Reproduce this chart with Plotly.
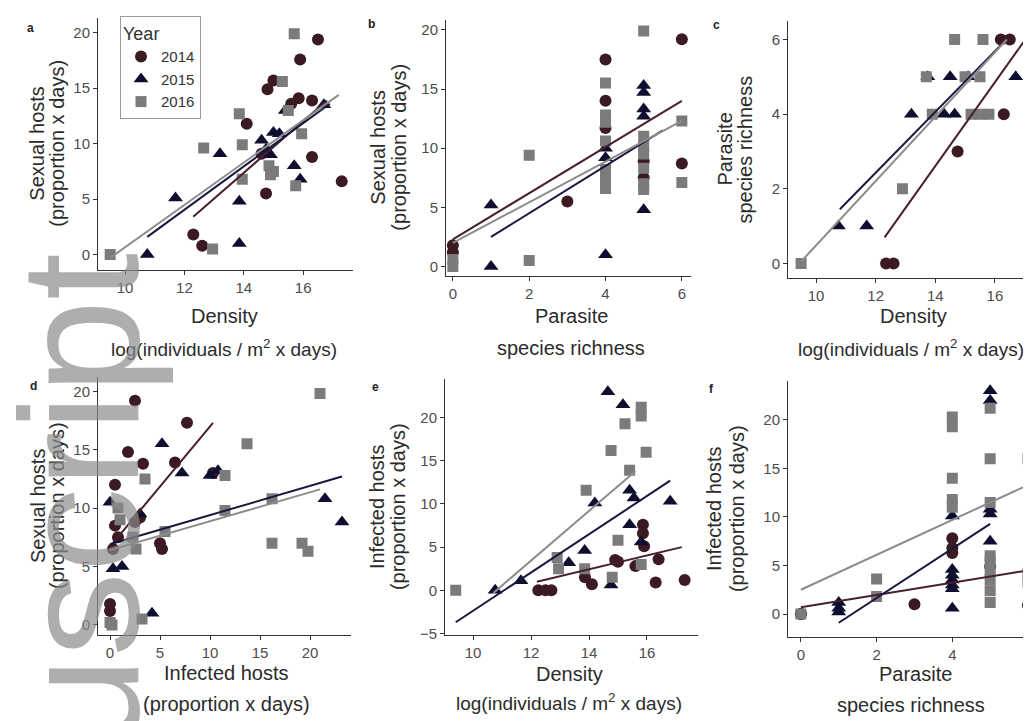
import plotly.graph_objects as go

W, H = 1031, 721

# ---------------- data ----------------
years = ["2014", "2015", "2016"]

# panel a: Density (x) vs Sexual hosts (y)
a_2014_x = [12.3, 12.6, 14.1, 14.6, 14.75, 14.8, 15.0, 15.6, 15.85, 15.9, 16.3, 16.3, 16.5, 17.3]
a_2014_y = [1.8, 0.8, 11.8, 9.1, 5.5, 14.9, 15.7, 13.6, 14.1, 17.6, 8.8, 13.9, 19.4, 6.6]
a_2015_x = [10.75, 11.7, 13.2, 13.85, 13.85, 14.6, 14.9, 15.0, 15.2, 15.4, 15.7, 15.9, 16.7, 14.75]
a_2015_y = [0.0, 5.1, 9.1, 4.8, 1.0, 10.3, 9.0, 11.0, 10.9, 13.0, 8.0, 6.8, 13.5, 9.5]
a_2016_x = [9.5, 12.95, 12.65, 13.85, 13.95, 13.95, 14.85, 14.9, 15.3, 15.7, 15.75, 15.95, 15.5, 15.0]
a_2016_y = [0.0, 0.5, 9.6, 12.7, 9.9, 6.8, 8.0, 7.2, 15.6, 19.9, 6.2, 10.9, 13.0, 7.5]

# panel b: Parasite species richness (x) vs Sexual hosts (y)
b_2014_x = [0, 0, 3, 4, 4, 4, 5, 5, 6, 6]
b_2014_y = [1.8, 1.2, 5.5, 17.5, 14.0, 11.7, 8.9, 7.5, 19.2, 8.7]
b_2015_x = [1, 1, 4, 4, 4, 5, 5, 5, 5, 5]
b_2015_y = [5.2, 0.0, 10.0, 9.2, 1.0, 15.3, 14.7, 13.3, 12.7, 4.8]
b_2016_x = [0, 0, 2, 2, 4, 4, 4, 4, 4, 4, 4, 5, 5, 5, 5, 5, 5, 5, 6, 6]
b_2016_y = [0.6, 0.0, 9.4, 0.5, 15.5, 12.8, 10.6, 8.2, 7.3, 6.6, 12.2, 19.9, 11.0, 10.2, 9.5, 8.3, 7.0, 6.5, 12.3, 7.1]

# panel c: Density (x) vs Parasite species richness (y)
c_2014_x = [12.35, 12.6, 14.75, 16.3, 16.2, 16.5, 17.25]
c_2014_y = [0, 0, 3, 4, 6, 6, 5]
c_2015_x = [10.75, 11.7, 13.2, 14.3, 14.65, 14.5, 15.1, 16.7, 13.75]
c_2015_y = [1, 1, 4, 4, 4, 5, 5, 5, 5]
c_2016_x = [9.5, 12.9, 13.9, 15.2, 15.5, 15.8, 13.7, 15.0, 15.5, 14.65, 15.6]
c_2016_y = [0, 2, 4, 4, 4, 4, 5, 5, 5, 6, 6]

# panel d: Infected hosts (x) vs Sexual hosts (y)
d_2014_x = [2.5, 7.7, 1.8, 3.3, 6.5, 10.3, 0.5, 0.5, 3.0, 2.5, 5.0, 5.2, 0.3, 0.0, 0.0, 0.8]
d_2014_y = [19.2, 17.3, 14.8, 13.8, 13.9, 13.0, 12.0, 8.5, 9.2, 8.8, 7.0, 6.5, 6.5, 1.8, 1.2, 7.5]
d_2015_x = [5.2, 7.2, 10.0, 10.8, 0.0, 0.3, 1.2, 4.2, 21.5, 23.2, 3.0]
d_2015_y = [15.5, 13.0, 12.8, 13.2, 10.5, 4.8, 5.0, 1.0, 10.8, 8.8, 9.5]
d_2016_x = [3.5, 11.5, 16.2, 13.7, 21.0, 16.2, 19.2, 19.8, 2.3, 5.5, 0.8, 2.6, 0.0, 0.2, 3.2, 11.5, 1.0]
d_2016_y = [12.5, 9.8, 10.8, 15.5, 19.8, 7.0, 7.0, 6.3, 7.5, 8.0, 10.0, 6.5, 0.2, 0.0, 0.5, 12.8, 9.0]

# panel e: Density (x) vs Infected hosts (y)
e_2014_x = [12.25, 12.5, 12.7, 13.86, 14.1, 15.0, 15.6, 15.86, 15.86, 15.9, 16.4, 16.3, 17.3, 14.9]
e_2014_y = [0.0, 0.0, 0.0, 1.5, 0.7, 3.3, 2.8, 7.6, 6.6, 5.1, 3.6, 0.9, 1.2, 3.5]
e_2015_x = [10.76, 11.65, 13.3, 14.2, 13.85, 14.65, 15.17, 15.4, 15.55, 15.4, 14.76, 16.8, 15.8]
e_2015_y = [0.0, 1.1, 3.2, 10.1, 4.6, 23.0, 21.5, 11.6, 10.7, 7.6, 0.6, 10.3, 5.6]
e_2016_x = [9.4, 12.9, 12.95, 13.9, 14.76, 15.24, 15.4, 15.0, 15.8, 15.8, 15.97, 14.8, 15.8, 13.85]
e_2016_y = [0.0, 3.8, 2.5, 11.6, 16.2, 19.3, 13.9, 5.8, 21.2, 20.2, 16.0, 1.5, 3.0, 2.5]

# panel f: Parasite species richness (x) vs Infected hosts (y)
f_2014_x = [0, 0, 3, 4, 4, 4, 5, 6]
f_2014_y = [0.0, 0.0, 1.0, 7.8, 6.8, 6.3, 4.9, 0.9]
f_2015_x = [1, 1, 1, 4, 4, 4, 4, 4, 4, 4, 5, 5, 5, 5, 5]
f_2015_y = [1.2, 0.6, 0.2, 10.1, 4.6, 4.0, 3.5, 3.0, 2.6, 0.6, 23.0, 22.0, 10.3, 10.8, 7.5]
f_2016_x = [0, 2, 2, 4, 4, 4, 4, 4, 5, 5, 5, 5, 5, 5, 5, 5, 5, 6, 6, 6]
f_2016_y = [0.0, 3.6, 1.8, 20.3, 19.3, 14.0, 11.8, 11.0, 21.2, 16.0, 11.5, 6.0, 5.5, 4.4, 3.5, 2.4, 1.2, 16.0, 4.2, 3.3]

# fitted lines (end points)
a_fit_x = {"2014": [12.3, 16.8], "2015": [10.75, 16.9], "2016": [9.5, 17.2]}
a_fit_y = {"2014": [3.4, 13.9], "2015": [1.6, 13.6], "2016": [-0.3, 14.4]}
b_fit_x = {"2014": [0, 6], "2015": [1, 5.5], "2016": [0, 6]}
b_fit_y = {"2014": [2.3, 14.0], "2015": [2.5, 11.5], "2016": [2.0, 12.3]}
c_fit_x = {"2014": [12.3, 17.2], "2015": [10.8, 16.2], "2016": [9.5, 16.4]}
c_fit_y = {"2014": [0.7, 6.2], "2015": [1.45, 5.85], "2016": [0.05, 6.0]}
d_fit_x = {"2014": [0, 10.3], "2015": [0, 23.2], "2016": [0, 21.0]}
d_fit_y = {"2014": [6.7, 17.3], "2015": [6.9, 12.7], "2016": [6.4, 11.6]}
e_fit_x = {"2014": [12.2, 17.2], "2015": [9.4, 16.8], "2016": [10.7, 15.6]}
e_fit_y = {"2014": [1.0, 5.0], "2015": [-3.7, 12.7], "2016": [-0.3, 13.8]}
f_fit_x = {"2014": [0, 6], "2015": [1, 5], "2016": [0, 6]}
f_fit_y = {"2014": [0.7, 4.5], "2015": [-0.9, 9.3], "2016": [2.5, 13.3]}

# ---------------- styles ----------------
pt_color = {"2014": "#3b1a22", "2015": "#0e0e30", "2016": "#7b7b7b"}
ln_color = {"2014": "#4a1f2c", "2015": "#17173f", "2016": "#8c8c8c"}
symbol = {"2014": "circle", "2015": "triangle-up", "2016": "square"}
msize = {"2014": 12, "2015": 13, "2016": 11}

FONT = "Liberation Sans, Arial, sans-serif"

# panel geometry in pixels: x0, x1, y0(top), y1(bottom)
panels = {
    "a": dict(px=(90, 345, 10, 265), xr=(9.09, 17.68), yr=(-1.43, 21.34), xt=[10, 12, 14, 16], yt=[0, 5, 10, 15, 20]),
    "b": dict(px=(438, 683, 12, 271), xr=(-0.18, 6.24), yr=(-0.83, 20.84), xt=[0, 2, 4, 6], yt=[0, 5, 10, 15, 20]),
    "c": dict(px=(780, 1031, 13, 273), xr=(9.06, 17.48), yr=(-0.4, 6.5), xt=[10, 12, 14, 16], yt=[0, 2, 4, 6]),
    "d": dict(px=(90, 343, 373, 633), xr=(-1.2, 24.1), yr=(-0.85, 21.19), xt=[0, 5, 10, 15, 20], yt=[0, 5, 10, 15, 20]),
    "e": dict(px=(437, 690, 375, 633), xr=(9.03, 17.76), yr=(-5.16, 24.43), xt=[10, 12, 14, 16], yt=[-5, 0, 5, 10, 15, 20]),
    "f": dict(px=(780, 1031, 377, 635), xr=(-0.34, 6.29), yr=(-2.35, 23.98), xt=[0, 2, 4, 6], yt=[0, 5, 10, 15, 20]),
}

points = {
    "a": {"2014": (a_2014_x, a_2014_y), "2015": (a_2015_x, a_2015_y), "2016": (a_2016_x, a_2016_y)},
    "b": {"2014": (b_2014_x, b_2014_y), "2015": (b_2015_x, b_2015_y), "2016": (b_2016_x, b_2016_y)},
    "c": {"2014": (c_2014_x, c_2014_y), "2015": (c_2015_x, c_2015_y), "2016": (c_2016_x, c_2016_y)},
    "d": {"2014": (d_2014_x, d_2014_y), "2015": (d_2015_x, d_2015_y), "2016": (d_2016_x, d_2016_y)},
    "e": {"2014": (e_2014_x, e_2014_y), "2015": (e_2015_x, e_2015_y), "2016": (e_2016_x, e_2016_y)},
    "f": {"2014": (f_2014_x, f_2014_y), "2015": (f_2015_x, f_2015_y), "2016": (f_2016_x, f_2016_y)},
}
fits = {
    "a": (a_fit_x, a_fit_y), "b": (b_fit_x, b_fit_y), "c": (c_fit_x, c_fit_y),
    "d": (d_fit_x, d_fit_y), "e": (e_fit_x, e_fit_y), "f": (f_fit_x, f_fit_y),
}

fig = go.Figure()
layout = dict(
    width=W, height=H, margin=dict(l=0, r=0, t=0, b=0),
    paper_bgcolor="white", plot_bgcolor="white",
    font=dict(family=FONT, color="#333333"),
    showlegend=True,
)

for i, (key, p) in enumerate(panels.items()):
    n = "" if i == 0 else str(i + 1)
    x0, x1, y0, y1 = p["px"]
    ax_common = dict(showgrid=False, zeroline=False, showline=True, linecolor="#333333", linewidth=1,
                     ticks="outside", ticklen=4, tickcolor="#333333", tickwidth=1,
                     tickfont=dict(size=15, color="#4d4d4d", family=FONT))
    layout["xaxis" + n] = dict(domain=[x0 / W, x1 / W], range=list(p["xr"]), tickvals=p["xt"],
                               anchor="y" + n, **ax_common)
    layout["yaxis" + n] = dict(domain=[1 - y1 / H, 1 - y0 / H], range=list(p["yr"]), tickvals=p["yt"],
                               anchor="x" + n, **ax_common)
    for yr in years:
        xs, ys = points[key][yr]
        fig.add_trace(go.Scatter(
            x=xs, y=ys, mode="markers", xaxis="x" + n, yaxis="y" + n,
            name=yr, legendgroup=yr, showlegend=(key == "a"),
            marker=dict(symbol=symbol[yr], size=msize[yr], color=pt_color[yr], line=dict(width=0)),
        ))
    fx, fy = fits[key]
    for yr in years:
        fig.add_trace(go.Scatter(
            x=fx[yr], y=fy[yr], mode="lines", xaxis="x" + n, yaxis="y" + n,
            showlegend=False, hoverinfo="skip",
            line=dict(color=ln_color[yr], width=2),
        ))

layout["legend"] = dict(
    x=112 / W, y=1 - 8 / H, xanchor="left", yanchor="top",
    bgcolor="white", bordercolor="#9a9a9a", borderwidth=1,
    title=dict(text="Year", font=dict(size=18, color="#333333")),
    font=dict(size=15, color="#333333"), tracegroupgap=0,
)

annotations = []

def txt(text, xp, yp, size=20, angle=0, color="#2b2b2b", bold=False):
    annotations.append(dict(
        text=("<b>%s</b>" % text) if bold else text, x=xp / W, y=1 - yp / H,
        xref="paper", yref="paper", showarrow=False, textangle=angle,
        xanchor="center", yanchor="middle", font=dict(size=size, color=color, family=FONT),
    ))

log_t = "log(individuals / m<sup>2</sup> x days)"
# y titles
for (l1, l2, xa, xb, yc) in [
    ("Sexual hosts", "(proportion x days)", 29, 49, 137),
    ("Sexual hosts", "(proportion x days)", 370, 391, 141),
    ("Parasite", "species richness", 717, 737, 143),
    ("Sexual hosts", "(proportion x days)", 30, 49, 503),
    ("Infected hosts", "(proportion x days)", 369, 390, 504),
    ("Infected hosts", "(proportion x days)", 706, 729, 506),
]:
    txt(l1, xa, yc, angle=-90)
    txt(l2, xb, yc, angle=-90)

# x titles (first line, second line, centre x, y1, y2, size of second line)
for (l1, l2, xc, ya, yb, s2) in [
    ("Density", log_t, 216, 311, 343, 19),
    ("Parasite", "species richness", 563, 311, 343, 20),
    ("Density", log_t, 905, 311, 343, 19),
    ("Infected hosts", "(proportion x days)", 218, 672, 703, 20),
    ("Density", log_t, 561, 673, 701, 19),
    ("Parasite", "species richness", 907, 673, 704, 20),
]:
    txt(l1, xc, ya)
    txt(l2, (xc if xc < 900 else 903), yb, size=s2)

# panel letters
for (lab, xp, yp) in [("a", 22, 20), ("b", 363, 16), ("c", 708, 17),
                      ("d", 25, 382), ("e", 367, 383), ("f", 703, 385)]:
    txt(lab, xp, yp, size=12, color="#222222", bold=True)

# watermark from the source page
annotations.append(dict(
    text="Manuscript", x=72 / W, y=1 - 665 / H, xref="paper", yref="paper",
    showarrow=False, textangle=-90, xanchor="center", yanchor="middle",
    font=dict(size=169, color="rgba(140,140,140,0.7)", family=FONT),
))

layout["annotations"] = annotations
fig.update_layout(**layout)
fig.write_html("out.html")
